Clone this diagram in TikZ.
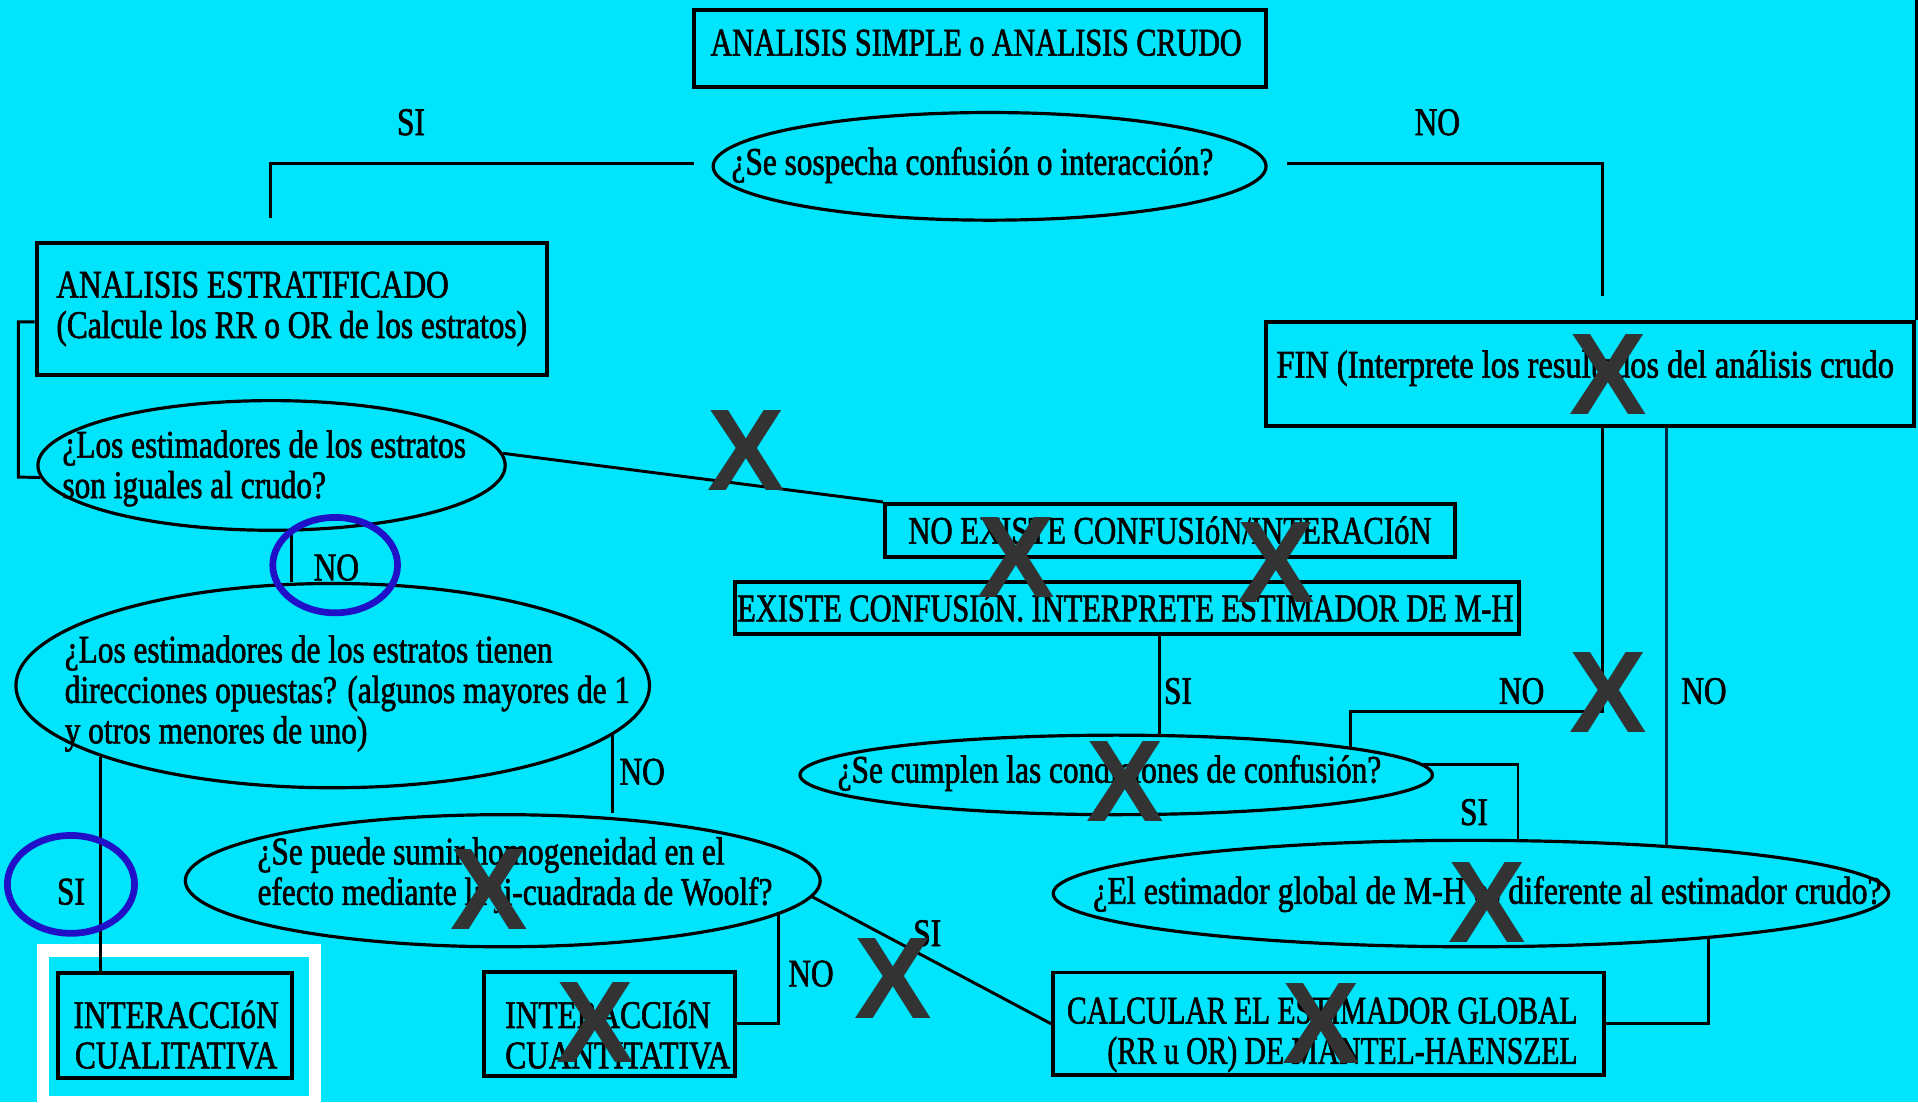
\documentclass[tikz,border=0pt]{standalone}
\usepackage{fontspec}
\setmainfont{Liberation Serif}
\newfontfamily\cf{Liberation Serif}[FakeStretch=0.8,FakeBold=1.5]
\newfontfamily\xsans{Liberation Sans}
\newcommand\txtf{\cf\fontsize{32}{33}\selectfont}
\newcommand\xmf{\xsans\bfseries\fontsize{95}{95}\selectfont}
\usetikzlibrary{shapes.geometric}
\definecolor{bg}{RGB}{0,228,252}
\definecolor{xg}{RGB}{51,51,51}
\definecolor{cb}{RGB}{32,16,200}
\definecolor{dk}{RGB}{0,40,70}
\begin{document}
\begin{tikzpicture}[x=1pt,y=-1pt,
  box/.style={draw, line width=3.2pt, rectangle, inner sep=0pt, align=center, font=\txtf},
  ell/.style={draw, ellipse, line width=2.6pt, inner sep=0pt},
  txt/.style={inner sep=0pt, align=left, font=\txtf},
  lbl/.style={inner sep=0pt, font=\txtf},
  conn/.style={line width=2.4pt},
  xm/.style={inner sep=0pt, text=xg, font=\xmf},
  circ/.style={draw=cb, ellipse, line width=5.5pt, inner sep=0pt}]
\fill[bg] (0,0) rectangle (1568,901);
\useasboundingbox (0,0) rectangle (1568,901);
% highlight frame
\draw[white, line width=10pt] (35,777) rectangle (257.5,901);
% boxes
\node[box, minimum width=468pt, minimum height=63pt] (top) at (801,39.5) {};
\node[txt] (ttop) at (798,35) {\scalebox{0.96}[1]{ANALISIS SIMPLE o ANALISIS CRUDO}};
\node[box, minimum width=417pt, minimum height=108pt, align=left] (est) at (238.5,252.6) {ANALISIS ESTRATIFICADO\\(Calcule los RR o OR de los estratos)};
\node[box, minimum width=530pt, minimum height=85pt] (fin) at (1300,305.5) {};
\node[txt] (tfin) at (1296,301) {\scalebox{1.035}[1]{FIN (Interprete los resultados del análisis crudo}};
\node[box, minimum width=466pt, minimum height=43pt] (noex) at (956.5,433.5) {\scalebox{0.98}[1]{NO EXISTE CONFUSIóN/INTERACIóN}};
\node[box, minimum width=641pt, minimum height=43pt] (exist) at (921.5,497) {};
\node[txt] (texist) at (920,497) {\scalebox{0.97}[1]{EXISTE CONFUSIóN. INTERPRETE ESTIMADOR DE M-H}};
\node[box, minimum width=191pt, minimum height=86pt] (cual) at (143,838.6) {};
\node[txt, align=center] (tcual) at (144,846) {INTERACCIóN\\CUALITATIVA};
\node[box, minimum width=205pt, minimum height=85pt] (cuant) at (498,837) {};
\node[txt] (tcuant) at (505,846) {INTERACCIóN\\CUANTITATIVA};
\node[box, minimum width=450pt, minimum height=84pt] (calc) at (1086,837) {};
\node[txt, align=right] (tcalc) at (1081,846) {\scalebox{0.945}[1]{CALCULAR EL ESTIMADOR GLOBAL}\\\scalebox{0.945}[1]{(RR u OR) DE MANTEL-HAENSZEL}};
% ellipses
\node[ell, minimum width=452pt, minimum height=88pt] (ellB) at (809,136) {};
\node[txt] (tB) at (795,135) {¿Se sospecha confusión o interacción?};
\node[ell, minimum width=382pt, minimum height=106pt] (ellI) at (222,380.5) {};
\node[txt] (tI) at (216,383) {¿Los estimadores de los estratos\\son iguales al crudo?};
\node[ell, minimum width=518pt, minimum height=167pt] (ellP) at (272,560.5) {};
\node[txt] (tP) at (284,567) {¿Los estimadores de los estratos tienen\\direcciones opuestas? (algunos mayores de 1\\y otros menores de uno)};
\node[ell, minimum width=519pt, minimum height=108pt] (ellU) at (411,720) {};
\node[txt] (tU) at (421,715.5) {¿Se puede sumir homogeneidad en el\\efecto mediante la ji-cuadrada de Woolf?};
\node[ell, minimum width=517pt, minimum height=65pt] (ellBB) at (912.5,633.5) {};
\node[txt] (tBB) at (907,632) {¿Se cumplen las condiciones de confusión?};
\node[ell, minimum width=683pt, minimum height=87pt] (ellZ) at (1202.5,730.5) {};
\node[txt] (tZ) at (1216,731) {\scalebox{1.02}[1]{¿El estimador global de M-H es diferente al estimador crudo?}};
% connectors
\coordinate (a1) at (567,134); \coordinate (a2) at (221,178);
\draw[conn] (a1) -| (a2);
\coordinate (b1) at (1052,134); \coordinate (b2) at (1310,242);
\draw[conn] (b1) -| (b2);
\coordinate (rt) at (1565,0);
\draw[conn] (fin.north east) -- (fin.north east |- rt);
\draw[conn] ([yshift=-10.5pt]est.west) -| (15,390) -- (ellI.183);
\draw[conn] (ellI.3) -- (noex.north west);
\coordinate (x238) at (238,0);
\draw[conn] (ellI.south -| x238) -- (ellP.north -| x238);
\draw[conn] (ellP.197) -- (ellP.197 |- cual.north);
\draw[conn] (ellP.350) -- (ellP.350 |- ellU.north);
\draw[conn] (ellU.353) |- (cuant.east);
\draw[conn] (ellU.-3) -- (calc.west);
\coordinate (x1397) at (1397,0);
\draw[conn] (calc.east) -| (x1397 |- ellZ.-10);
\coordinate (x948) at (948,0);
\draw[conn] (exist.south -| x948) -- (ellBB.north -| x948);
\coordinate (x1241) at (1241,0);
\draw[conn] (ellBB.2) -| (ellZ.north -| x1241);
\coordinate (c582) at (1104,582);
\coordinate (x1310) at (1310,0);
\draw[conn] (fin.south -| x1310) |- (c582) -- (c582 |- ellBB.7);
\coordinate (x1362) at (1362,0);
\draw[conn, draw=dk] (fin.south -| x1362) -- (x1362 |- ellZ.14);
% blue circles
\node[circ, minimum width=102pt, minimum height=78pt] (cNO) at (274,462) {};
\node[circ, minimum width=104pt, minimum height=80pt] (cSI) at (58,723) {};
% labels
\node[lbl] (lSIa) at (336,100) {SI};
\node[lbl] (lNOa) at (1175,100) {NO};
\node[lbl] (lNOb) at (275,464) {NO};
\node[lbl] (lSIb) at (58,729) {SI};
\node[lbl] (lNOc) at (525,631) {NO};
\node[lbl] (lNOd) at (663,796) {NO};
\node[lbl] (lSIc) at (758,763) {SI};
\node[lbl] (lSId) at (963,565) {SI};
\node[lbl] (lNOe) at (1244,565) {NO};
\node[lbl] (lNOf) at (1393,565) {NO};
\node[lbl] (lSIe) at (1205,664) {SI};
% X marks
\node[xm] (xa) at (610,368) {X};
\node[xm] (xb) at (831,456) {X};
\node[xm] (xc) at (1043,460) {X};
\node[xm] (xd) at (1315,306) {X};
\node[xm] (xe) at (1315,566) {X};
\node[xm] (xf) at (920,639) {X};
\node[xm] (xg) at (1216,738) {X};
\node[xm] (xh) at (400,727) {X};
\node[xm] (xi) at (487,836) {X};
\node[xm] (xj) at (730,800) {X};
\node[xm] (xk) at (1080,837) {X};
\end{tikzpicture}
\end{document}
